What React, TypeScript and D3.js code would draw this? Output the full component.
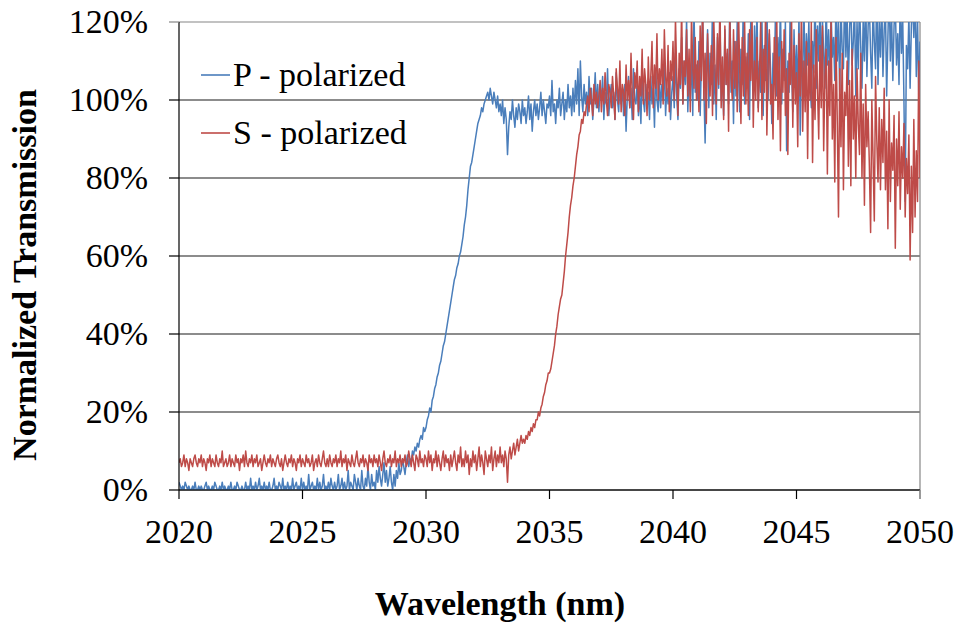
import React from "react";
import * as d3 from "d3";

const START_NM = 2020;
const STEP_NM = 0.05;

// P-polarized transmission (%), sampled every 0.05 nm from 2020 to 2050 (10 samples per row = 0.5 nm)
const pPolarized: number[] = [
  2,1,0,1,0,2,1,0,1,0, // 2020.0
  0,1,0,2,0,0,1,0,1,0, // 2020.5
  0,1,2,0,1,0,0,1,0,2, // 2021.0
  1,0,0,1,0,2,0,1,0,0, // 2021.5
  1,0,2,0,0,1,0,2,1,0, // 2022.0
  0,1,0,0,2,0,1,0,3,0, // 2022.5
  1,0,2,0,1,3,0,1,0,2, // 2023.0
  0,1,0,2,0,0,1,3,0,1, // 2023.5
  0,2,1,0,3,0,1,0,2,0, // 2024.0
  1,0,3,0,1,2,0,1,0,3, // 2024.5
  0,2,0,1,0,4,0,1,2,0, // 2025.0
  1,0,3,0,2,0,1,4,0,1, // 2025.5
  0,2,0,3,1,0,2,0,1,4, // 2026.0
  0,1,3,0,2,0,1,5,0,2, // 2026.5
  1,0,4,2,0,3,1,0,5,1, // 2027.0
  0,3,1,6,2,0,4,1,2,0, // 2027.5
  5,2,6,3,1,4,7,2,5,1, // 2028.0
  3,6,2,0,4,1,5,3,7,4, // 2028.5
  5,8,6,4,7,9,6,8,7,10, // 2029.0
  9,11,10,12,11,13,14,13,16,15, // 2029.5
  16,18,19,21,20,23,24,26,27,29, // 2030.0
  30,32,33,35,37,38,40,42,44,46, // 2030.5
  48,50,52,54,55,57,58,60,61,63, // 2031.0
  65,68,70,73,77,80,83,84,86,88, // 2031.5
  90,92,94,95,96,98,97,99,100,101, // 2032.0
  102,100,103,101,99,102,100,98,101,97, // 2032.5
  99,96,100,94,98,95,86,93,97,95, // 2033.0
  100,96,93,98,95,99,97,94,100,96, // 2033.5
  98,94,97,101,95,99,92,97,100,96, // 2034.0
  99,95,98,102,96,100,97,94,99,98, // 2034.5
  101,96,105,97,99,94,100,98,103,96, // 2035.0
  99,102,95,100,97,104,98,101,96,103, // 2035.5
  97,105,99,108,96,110,101,97,104,99, // 2036.0
  102,96,106,99,103,95,100,107,98,104, // 2036.5
  97,103,100,106,95,102,99,108,96,101, // 2037.0
  104,98,102,95,107,100,97,105,99,103, // 2037.5
  96,104,92,101,106,98,103,95,108,100, // 2038.0
  99,105,96,102,94,107,100,97,104,98, // 2038.5
  102,95,106,99,103,93,108,100,97,105, // 2039.0
  98,104,100,110,96,103,99,107,95,102, // 2039.5
  106,98,112,101,95,108,103,116,99,110, // 2040.0
  104,121,97,108,100,113,96,124,102,109, // 2040.5
  100,115,96,110,122,103,89,107,118,98, // 2041.0
  112,104,125,99,109,95,116,103,121,100, // 2041.5
  108,96,118,104,112,99,126,102,110,94, // 2042.0
  115,101,120,107,97,113,104,128,99,111, // 2042.5
  103,117,95,122,108,100,119,106,124,98, // 2043.0
  110,102,121,96,114,105,127,100,117,108, // 2043.5
  94,112,104,123,101,116,107,125,99,113, // 2044.0
  105,120,87,110,102,126,108,97,118,104, // 2044.5
  114,100,122,91,110,106,125,102,117,109, // 2045.0
  120,104,98,115,107,128,103,119,110,124, // 2045.5
  106,121,112,103,126,109,118,104,123,111, // 2046.0
  116,105,127,110,120,102,124,113,108,129, // 2046.5
  111,122,104,118,127,109,115,125,101,120, // 2047.0
  108,126,114,103,121,110,128,106,119,124, // 2047.5
  112,103,125,115,108,130,104,120,111,127, // 2048.0
  106,118,124,101,116,129,110,122,105,119, // 2048.5
  125,109,117,104,128,112,121,100,74,114, // 2049.0
  108,122,103,119,126,116,127,106,121,101, // 2049.5
  115, // 2050.0
];

// S-polarized transmission (%), sampled every 0.05 nm from 2020 to 2050 (10 samples per row = 0.5 nm)
const sPolarized: number[] = [
  7,8,6,7,9,6,8,7,5,8, // 2020.0
  7,6,8,9,7,6,8,7,9,6, // 2020.5
  8,7,5,8,7,9,6,8,7,6, // 2021.0
  9,7,6,8,7,10,6,7,8,6, // 2021.5
  7,9,6,8,7,6,9,7,8,5, // 2022.0
  8,7,9,6,10,7,6,8,7,9, // 2022.5
  6,8,7,9,6,7,8,5,7,9, // 2023.0
  7,6,8,7,9,6,8,7,6,8, // 2023.5
  9,7,6,8,5,7,9,7,6,8, // 2024.0
  7,9,6,8,7,5,8,7,9,6, // 2024.5
  8,7,6,9,7,8,6,7,9,5, // 2025.0
  7,8,6,9,7,6,8,10,7,6, // 2025.5
  8,6,9,7,6,8,7,9,6,8, // 2026.0
  7,10,6,8,7,9,5,8,7,6, // 2026.5
  9,7,6,8,10,7,6,8,7,9, // 2027.0
  6,8,7,5,9,7,8,6,9,7, // 2027.5
  8,6,9,7,5,8,10,7,6,8, // 2028.0
  7,9,6,8,7,10,6,8,7,9, // 2028.5
  6,8,7,9,6,7,10,8,6,9, // 2029.0
  7,5,9,8,6,10,7,8,6,9, // 2029.5
  8,6,10,7,9,5,8,7,10,6, // 2030.0
  9,7,5,8,10,6,9,7,8,5, // 2030.5
  9,6,8,10,7,5,9,7,11,6, // 2031.0
  8,6,10,7,9,4,8,6,10,7, // 2031.5
  9,5,8,11,6,9,7,4,10,8, // 2032.0
  6,9,7,11,5,8,10,6,9,7, // 2032.5
  11,7,9,6,10,8,2,9,11,8, // 2033.0
  10,12,9,11,13,10,12,14,12,13, // 2033.5
  12,14,13,15,14,16,15,17,16,18, // 2034.0
  18,20,19,21,22,24,25,27,28,30, // 2034.5
  30,31,33,35,37,40,42,45,47,49, // 2035.0
  50,53,56,60,63,66,70,73,75,78, // 2035.5
  80,83,86,88,91,92,95,94,97,96, // 2036.0
  99,101,97,103,100,96,104,99,102,98, // 2036.5
  101,105,97,103,99,107,100,96,104,102, // 2037.0
  98,106,101,95,108,103,99,110,97,104, // 2037.5
  102,96,109,100,105,98,112,101,95,107, // 2038.0
  103,110,97,106,101,113,99,108,104,96, // 2038.5
  111,100,106,115,98,109,103,117,100,108, // 2039.0
  104,113,99,118,106,101,114,97,110,105, // 2039.5
  115,100,121,107,96,112,104,124,99,110, // 2040.0
  106,118,101,113,97,122,108,103,116,100, // 2040.5
  110,97,119,105,125,100,112,94,117,106, // 2041.0
  101,114,96,121,108,99,117,104,126,98, // 2041.5
  111,95,119,104,113,92,122,106,100,118, // 2042.0
  103,115,97,124,108,94,116,101,120,99, // 2042.5
  112,96,118,105,121,93,110,100,116,97, // 2043.0
  107,120,95,113,102,124,91,109,118,99, // 2043.5
  104,90,116,100,122,95,111,87,115,102, // 2044.0
  118,96,108,86,112,104,121,93,114,99, // 2044.5
  107,88,117,101,123,92,110,97,115,85, // 2045.0
  112,100,120,84,109,95,118,103,90,114, // 2045.5
  98,119,87,106,113,81,110,96,122,90, // 2046.0
  104,79,116,95,70,108,88,112,77,102, // 2046.5
  96,110,83,105,78,113,90,101,80,108, // 2047.0
  94,86,112,80,99,73,104,88,97,83, // 2047.5
  66,100,85,69,106,90,79,98,77,95, // 2048.0
  84,103,77,92,67,100,74,89,82,96, // 2048.5
  62,90,78,97,72,88,80,94,70,85, // 2049.0
  76,91,59,83,66,95,70,87,74,110, // 2049.5
  80, // 2050.0
];

const xTicks: number[] = [2020, 2025, 2030, 2035, 2040, 2045, 2050];
const yTicks: number[] = [0, 20, 40, 60, 80, 100, 120];
const seriesNames: string[] = ["P - polarized", "S - polarized"];
const seriesColors: string[] = ["#4a7ebb", "#be4b48"];

const W = 958;
const H = 624;
const FONT = '"Liberation Serif", "DejaVu Serif", "Times New Roman", Times, serif';
const textStyle = { fontFamily: FONT };

export default function App() {
  const x = d3.scaleLinear().domain([2020, 2050]).range([179, 920]);
  const y = d3.scaleLinear().domain([0, 120]).range([490, 22]);

  const line = d3
    .line<number>()
    .x((_, i) => x(START_NM + i * STEP_NM))
    .y((v) => y(v));

  const series = [pPolarized, sPolarized];
  const [x0, x1] = x.range();
  const [yb, yt] = y.range();

  return (
    <svg
      width={W}
      height={H}
      style={{ position: "absolute", left: 0, top: 0, background: "#fff", fontFamily: FONT }}
    >
      <defs>
        <clipPath id="plot-clip">
          <rect x={x0} y={yt} width={x1 - x0} height={yb - yt} />
        </clipPath>
      </defs>

      {/* gridlines */}
      {yTicks.map((t) => (
        <line
          key={"g" + t}
          x1={x0}
          x2={x1}
          y1={y(t)}
          y2={y(t)}
          stroke={t === 120 ? "#868686" : "#1a1a1a"}
          strokeWidth={1.2}
        />
      ))}
      {/* right border */}
      <line x1={x1} x2={x1} y1={yt} y2={yb + 9} stroke="#868686" strokeWidth={1.2} />

      {/* data lines */}
      <g clipPath="url(#plot-clip)">
        {series.map((s, i) => (
          <path
            key={seriesNames[i]}
            d={line(s) || ""}
            fill="none"
            stroke={seriesColors[i]}
            strokeWidth={1.5}
            strokeLinejoin="round"
          />
        ))}
      </g>

      {/* axes */}
      <line x1={x0} x2={x0} y1={yt} y2={yb} stroke="#000" strokeWidth={1.2} />
      <line x1={x0} x2={x1} y1={yb} y2={yb} stroke="#000" strokeWidth={1.2} />
      {yTicks.map((t) => (
        <g key={"yt" + t}>
          <line x1={x0 - 10} x2={x0} y1={y(t)} y2={y(t)} stroke={t === 120 ? "#868686" : "#000"} strokeWidth={1.2} />
          <text x={148} y={y(t) + 11} textAnchor="end" fontSize={34} fill="#000" style={textStyle}>
            {t + "%"}
          </text>
        </g>
      ))}
      {xTicks.map((t) => (
        <g key={"xt" + t}>
          <line x1={x(t)} x2={x(t)} y1={yb} y2={yb + 9} stroke={t === 2050 ? "#868686" : "#000"} strokeWidth={1.2} />
          <text x={x(t)} y={543} textAnchor="middle" fontSize={34} fill="#000" style={textStyle}>
            {String(t)}
          </text>
        </g>
      ))}

      {/* axis titles */}
      <text x={500} y={615} textAnchor="middle" fontSize={34} fontWeight="bold" fill="#000" style={textStyle}>
        Wavelength (nm)
      </text>
      <text
        transform={`translate(36, 275) rotate(-90)`}
        textAnchor="middle"
        fontSize={34}
        fontWeight="bold"
        fill="#000"
        style={textStyle}
      >
        Normalized Transmission
      </text>

      {/* legend */}
      {seriesNames.map((n, i) => (
        <g key={"lg" + n}>
          <line x1={201} x2={230} y1={75 + i * 58} y2={75 + i * 58} stroke={seriesColors[i]} strokeWidth={1.6} />
          <text x={233} y={86 + i * 58} fontSize={34} fill="#000" style={textStyle}>
            {n}
          </text>
        </g>
      ))}
    </svg>
  );
}
